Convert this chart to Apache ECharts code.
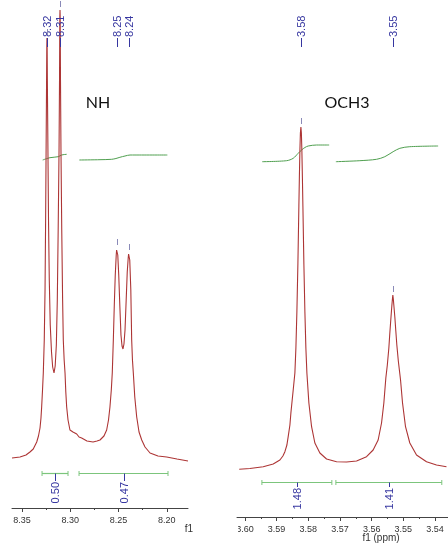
<!DOCTYPE html>
<html><head><meta charset="utf-8">
<script src="https://cdn.jsdelivr.net/npm/echarts@6/dist/echarts.min.js"></script>
<style>html,body{margin:0;padding:0;background:#fff}#c{width:448px;height:547px}</style>
</head><body><div id="c"></div>
<script>
// ---- NH region (left panel) ----
const nhPpm = [8.3603, 8.3520, 8.3458, 8.3417, 8.3383, 8.3347, 8.3329, 8.3313, 8.3303, 8.3296, 8.3287, 8.3279, 8.3269, 8.3261, 8.3255, 8.3250, 8.3245, 8.3243, 8.3241, 8.3239, 8.3237, 8.3231, 8.3225, 8.3217, 8.3207, 8.3194, 8.3182, 8.3168, 8.3156, 8.3144, 8.3134, 8.3125, 8.3116, 8.3111, 8.3108, 8.3106, 8.3104, 8.3101, 8.3096, 8.3088, 8.3079, 8.3072, 8.3063, 8.3054, 8.3046, 8.3037, 8.3023, 8.3003, 8.2972, 8.2933, 8.2909, 8.2882, 8.2827, 8.2764, 8.2723, 8.2692, 8.2651, 8.2623, 8.2604, 8.2589, 8.2575, 8.2565, 8.2554, 8.2544, 8.2534, 8.2524, 8.2520, 8.2516, 8.2512, 8.2508, 8.2498, 8.2487, 8.2475, 8.2464, 8.2454, 8.2444, 8.2433, 8.2421, 8.2410, 8.2400, 8.2396, 8.2392, 8.2388, 8.2384, 8.2373, 8.2364, 8.2356, 8.2347, 8.2332, 8.2312, 8.2288, 8.2260, 8.2226, 8.2174, 8.2092, 8.2002, 8.1895, 8.1781];
const nhIntensity = [50, 51, 53, 56, 59, 66, 72, 80, 90, 101, 118, 135, 168, 218, 288, 358, 428, 460, 470, 460, 428, 358, 288, 228, 183, 156, 141, 135, 142, 163, 208, 278, 358, 428, 490, 498, 490, 428, 358, 278, 208, 168, 148, 135, 116, 101, 88, 78, 76, 74, 71, 70, 67, 66, 67, 68, 72, 78, 88, 101, 118, 135, 168, 203, 233, 253, 258, 260, 258, 253, 233, 203, 173, 162, 159, 164, 178, 208, 236, 250, 254, 255, 253, 248, 218, 168, 148, 135, 111, 91, 76, 68, 61, 55, 52, 51, 49, 47];
const nhInt1Ppm = [8.3285, 8.3210, 8.3124, 8.3089, 8.3037];
const nhInt1Val = [348, 350.3, 351.3, 353, 353.7];
const nhInt2Ppm = [8.2906, 8.2692, 8.2571, 8.2527, 8.2486, 8.2433, 8.2381, 8.2330, 8.1995];
const nhInt2Val = [348, 348.3, 348.7, 349.5, 350.7, 352, 353, 353, 353];
const nhIntegralFrom = [8.3292, 8.2909];
const nhIntegralTo = [8.3023, 8.1988];
const nhIntegralLabels = ['0.50', '0.47'];
const nhPeakPpm = [8.3241, 8.3106, 8.2516, 8.2392];
const nhPeakHeight = [470, 498, 260, 255];
const nhPeakLabels = ['8.32', '8.31', '8.25', '8.24'];
const nhMajorTicks = [8.20, 8.25, 8.30, 8.35];
const nhMinorTicks = [8.225, 8.275, 8.325];

// ---- OCH3 region (right panel) ----
const och3Ppm = [3.60180, 3.59842, 3.59423, 3.59107, 3.58896, 3.58801, 3.58738, 3.58675, 3.58634, 3.58580, 3.58549, 3.58508, 3.58476, 3.58423, 3.58391, 3.58360, 3.58328, 3.58297, 3.58281, 3.58265, 3.58249, 3.58233, 3.58218, 3.58202, 3.58186, 3.58170, 3.58139, 3.58107, 3.58076, 3.58044, 3.57981, 3.57896, 3.57792, 3.57634, 3.57423, 3.57107, 3.56792, 3.56476, 3.56161, 3.55953, 3.55795, 3.55688, 3.55615, 3.55552, 3.55505, 3.55457, 3.55426, 3.55394, 3.55363, 3.55347, 3.55331, 3.55316, 3.55300, 3.55268, 3.55237, 3.55205, 3.55158, 3.55110, 3.55088, 3.55025, 3.54931, 3.54795, 3.54584, 3.54268, 3.53953, 3.53638];
const och3Intensity = [47.7, 48.5, 50.3, 53, 57, 61, 65.3, 72, 80.3, 92, 104, 117, 127, 144, 169, 205, 253, 311, 340, 366, 384, 390, 384, 366, 340, 311, 253, 205, 169, 144, 114, 90.3, 74, 64, 58, 55.3, 55, 56, 60.3, 67, 77, 94, 114, 139, 152, 169, 184, 198, 211, 217, 222, 218, 212, 200, 186, 172, 156, 143, 137, 114, 90.3, 74, 62, 55.3, 52, 50.3];
const och3Int1Ppm = [3.59454, 3.58685, 3.58476, 3.58319, 3.58211, 3.58107, 3.58003, 3.57738, 3.57341];
const och3Int1Val = [355.3, 356.3, 358.7, 363.7, 367, 369.5, 371, 372, 372];
const och3Int2Ppm = [3.57129, 3.56372, 3.55845, 3.55584, 3.55322, 3.55110, 3.54795, 3.53902];
const och3Int2Val = [355.3, 356.3, 357.7, 360.3, 365.3, 368.7, 370.3, 371];
const och3IntegralFrom = [3.59464, 3.57129];
const och3IntegralTo = [3.57256, 3.53786];
const och3IntegralLabels = ['1.48', '1.41'];
const och3PeakPpm = [3.58233, 3.55331];
const och3PeakHeight = [390, 222];
const och3PeakLabels = ['3.58', '3.55'];
const och3MajorTicks = [3.54, 3.55, 3.56, 3.57, 3.58, 3.59, 3.60];
const och3MinorTicks = [3.545, 3.555, 3.565, 3.575, 3.585, 3.595];

const zip = (a, b) => a.map((v, i) => [v, b[i]]);
const RED = '#ad3535', GREEN = '#4f9f4f', BAR = '#7cc57c', BLUE = '#3636a0', AX = '#444';
const LABEL_FONT = '11px "Liberation Sans", Arial, sans-serif';

function peakRender(labels, heights) {
  return function (params, api) {
    const i = params.dataIndex;
    const p = api.coord([api.value(0), heights[i]]);
    const x = Math.round(p[0]) + 0.5;
    return { type: 'group', children: [
      { type: 'line', shape: { x1: x, y1: 38, x2: x, y2: 47 }, style: { stroke: BLUE, lineWidth: 1 } },
      { type: 'text', x: x, y: 37, rotation: Math.PI / 2,
        style: { text: labels[i], fill: BLUE, font: LABEL_FONT, align: 'left', verticalAlign: 'middle' } },
      { type: 'line', shape: { x1: x, y1: p[1] - 9, x2: x, y2: p[1] - 3 }, style: { stroke: '#8a8ab8', lineWidth: 1 } }
    ] };
  };
}
function integralRender(from, to, labels, barY, textY) {
  return function (params, api) {
    const i = params.dataIndex;
    const a = api.coord([from[i], 0])[0];
    const b = api.coord([to[i], 0])[0];
    const m = Math.round((a + b) / 2) + 0.5;
    const y = barY + 0.5;
    return { type: 'group', children: [
      { type: 'line', shape: { x1: a, y1: y, x2: b, y2: y }, style: { stroke: BAR, lineWidth: 1.2 } },
      { type: 'line', shape: { x1: a, y1: y - 2.5, x2: a, y2: y + 2.5 }, style: { stroke: BAR, lineWidth: 1 } },
      { type: 'line', shape: { x1: b, y1: y - 2.5, x2: b, y2: y + 2.5 }, style: { stroke: BAR, lineWidth: 1 } },
      { type: 'line', shape: { x1: m, y1: y, x2: m, y2: textY - 1 }, style: { stroke: BLUE, lineWidth: 1 } },
      { type: 'text', x: m, y: textY, rotation: Math.PI / 2,
        style: { text: labels[i], fill: BLUE, font: LABEL_FONT, align: 'right', verticalAlign: 'middle' } }
    ] };
  };
}

function mainX(grid, min, max, major) {
  return { gridIndex: grid, type: 'value', min: min, max: max, inverse: true, position: 'bottom',
    axisLine: { show: true, onZero: false, lineStyle: { color: AX, width: 1 } },
    axisTick: { show: true, customValues: major, length: 4, lineStyle: { color: AX } },
    axisLabel: { show: true, customValues: major, formatter: v => v.toFixed(2), color: '#333',
      fontSize: 9, fontFamily: '"Liberation Sans", Arial, sans-serif', margin: 8 },
    splitLine: { show: false } };
}
function minorX(grid, min, max, minor) {
  return { gridIndex: grid, type: 'value', min: min, max: max, inverse: true, position: 'bottom', offset: 0,
    axisLine: { show: false, onZero: false },
    axisTick: { show: true, customValues: minor, length: 2, lineStyle: { color: AX } },
    axisLabel: { show: false }, splitLine: { show: false } };
}

const chart = echarts.init(document.getElementById('c'), null, { renderer: 'canvas' });
chart.setOption({
  animation: false,
  backgroundColor: '#fff',
  grid: [
    { left: 12, width: 176, top: 0, bottom: 39 },
    { left: 237, right: 0, top: 0, bottom: 30 }
  ],
  xAxis: [
    mainX(0, 8.1781, 8.3603, nhMajorTicks),
    minorX(0, 8.1781, 8.3603, nhMinorTicks),
    mainX(1, 3.5359, 3.6025, och3MajorTicks),
    minorX(1, 3.5359, 3.6025, och3MinorTicks)
  ],
  yAxis: [
    { gridIndex: 0, type: 'value', min: 0, max: 508, show: false },
    { gridIndex: 1, type: 'value', min: 0, max: 517, show: false }
  ],
  series: [
    { type: 'line', xAxisIndex: 0, yAxisIndex: 0, data: zip(nhPpm, nhIntensity), showSymbol: false,
      lineStyle: { color: RED, width: 1.1 }, z: 3 },
    { type: 'line', xAxisIndex: 0, yAxisIndex: 0, data: zip(nhInt1Ppm, nhInt1Val), showSymbol: false, smooth: 0.3,
      lineStyle: { color: GREEN, width: 1 }, z: 2 },
    { type: 'line', xAxisIndex: 0, yAxisIndex: 0, data: zip(nhInt2Ppm, nhInt2Val), showSymbol: false, smooth: 0.3,
      lineStyle: { color: GREEN, width: 1 }, z: 2 },
    { type: 'custom', xAxisIndex: 0, yAxisIndex: 0, data: nhPeakPpm.map(p => [p]), clip: false,
      renderItem: peakRender(nhPeakLabels, nhPeakHeight), z: 4 },
    { type: 'custom', xAxisIndex: 0, yAxisIndex: 0, data: nhIntegralFrom.map(p => [p]), clip: false,
      renderItem: integralRender(nhIntegralFrom, nhIntegralTo, nhIntegralLabels, 473, 482), z: 4 },

    { type: 'line', xAxisIndex: 2, yAxisIndex: 1, data: zip(och3Ppm, och3Intensity), showSymbol: false,
      lineStyle: { color: RED, width: 1.1 }, z: 3 },
    { type: 'line', xAxisIndex: 2, yAxisIndex: 1, data: zip(och3Int1Ppm, och3Int1Val), showSymbol: false, smooth: 0.3,
      lineStyle: { color: GREEN, width: 1 }, z: 2 },
    { type: 'line', xAxisIndex: 2, yAxisIndex: 1, data: zip(och3Int2Ppm, och3Int2Val), showSymbol: false, smooth: 0.3,
      lineStyle: { color: GREEN, width: 1 }, z: 2 },
    { type: 'custom', xAxisIndex: 2, yAxisIndex: 1, data: och3PeakPpm.map(p => [p]), clip: false,
      renderItem: peakRender(och3PeakLabels, och3PeakHeight), z: 4 },
    { type: 'custom', xAxisIndex: 2, yAxisIndex: 1, data: och3IntegralFrom.map(p => [p]), clip: false,
      renderItem: integralRender(och3IntegralFrom, och3IntegralTo, och3IntegralLabels, 482, 488), z: 4 }
  ],
  graphic: [
    { type: 'rect', left: 189, top: 519, shape: { width: 49, height: 18 }, style: { fill: '#fff' }, z: 100 },
    { type: 'text', x: 98, y: 103, style: { text: 'NH', font: '16px Lato, "Open Sans", sans-serif', fill: '#111', align: 'center', verticalAlign: 'middle' }, z: 100 },
    { type: 'text', x: 347, y: 103, style: { text: 'OCH3', font: '16px Lato, "Open Sans", sans-serif', fill: '#111', align: 'center', verticalAlign: 'middle' }, z: 100 },
    { type: 'text', x: 189, y: 529, style: { text: 'f1', font: '10px "Liberation Sans", Arial, sans-serif', fill: '#333', align: 'center', verticalAlign: 'middle' }, z: 100 },
    { type: 'text', x: 381, y: 538, style: { text: 'f1 (ppm)', font: '10px "Liberation Sans", Arial, sans-serif', fill: '#333', align: 'center', verticalAlign: 'middle' }, z: 100 }
  ]
});
</script>
</body></html>
